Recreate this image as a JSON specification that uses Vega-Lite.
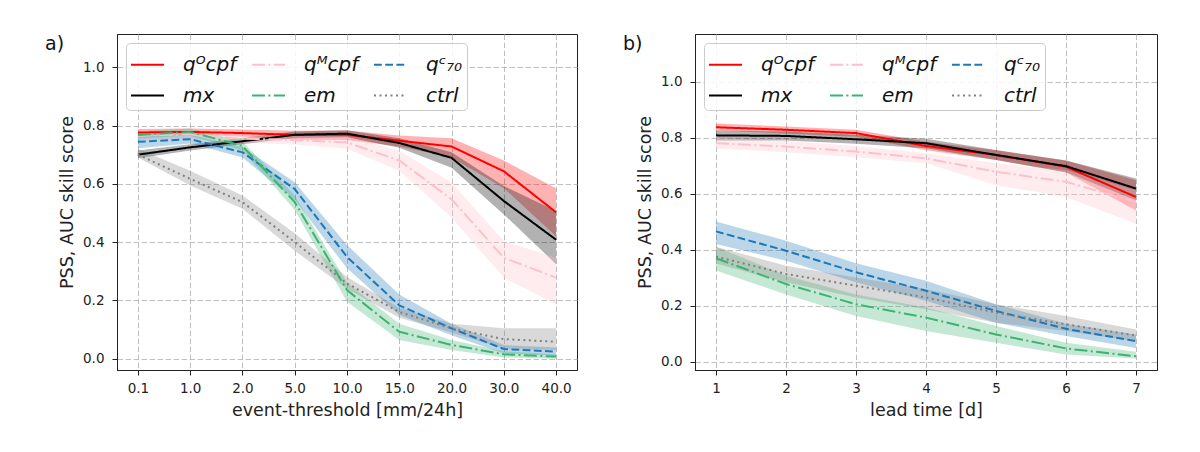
{
  "$schema": "https://vega.github.io/schema/vega-lite/v6.json",
  "background": "white",
  "padding": {"left": 44, "top": 33, "right": 5, "bottom": 5},
  "config": {
    "font": "DejaVu Sans",
    "view": {"stroke": "#222", "strokeWidth": 1},
    "axis": {
      "labelFontSize": 13.5, "labelColor": "#222", "titleFontSize": 17.5, "titleFontWeight": "normal",
      "titleColor": "#222", "tickColor": "#222", "domainColor": "#222", "tickSize": 5,
      "gridColor": "#b0b0b0", "gridDash": [5.5, 2.5], "gridWidth": 0.8
    },
    "axisX": {"labelPadding": 6, "titlePadding": 7, "labelAngle": 0},
    "axisY": {"labelPadding": 8, "titlePadding": 6},
    "legend": {
      "labelFontSize": 20, "labelFontStyle": "italic", "labelColor": "#111",
      "symbolType": "stroke", "symbolSize": 1089, "symbolStrokeWidth": 2,
      "fillColor": "rgba(255,255,255,0.85)", "strokeColor": "#cccccc", "cornerRadius": 4,
      "padding": 4, "rowPadding": 3, "columnPadding": 11, "labelOffset": 18
    },
    "title": {"fontSize": 19, "fontWeight": "normal", "color": "#111", "anchor": "start", "frame": "group", "baseline": "alphabetic", "offset": 0, "dx": -72, "dy": 24}
  },
  "datasets": {
    "a": [
      {"s": "qᴼcpf", "x": "0.1", "m": 0.776, "lo": 0.765, "hi": 0.788},
      {"s": "qᴼcpf", "x": "1.0", "m": 0.778, "lo": 0.768, "hi": 0.790},
      {"s": "qᴼcpf", "x": "2.0", "m": 0.774, "lo": 0.762, "hi": 0.786},
      {"s": "qᴼcpf", "x": "5.0", "m": 0.768, "lo": 0.752, "hi": 0.782},
      {"s": "qᴼcpf", "x": "10.0", "m": 0.768, "lo": 0.750, "hi": 0.783},
      {"s": "qᴼcpf", "x": "15.0", "m": 0.748, "lo": 0.728, "hi": 0.766},
      {"s": "qᴼcpf", "x": "20.0", "m": 0.728, "lo": 0.690, "hi": 0.756},
      {"s": "qᴼcpf", "x": "30.0", "m": 0.643, "lo": 0.585, "hi": 0.680},
      {"s": "qᴼcpf", "x": "40.0", "m": 0.502, "lo": 0.420, "hi": 0.585},
      {"s": "mx", "x": "0.1", "m": 0.700, "lo": 0.688, "hi": 0.714},
      {"s": "mx", "x": "1.0", "m": 0.725, "lo": 0.714, "hi": 0.736},
      {"s": "mx", "x": "2.0", "m": 0.746, "lo": 0.736, "hi": 0.757},
      {"s": "mx", "x": "5.0", "m": 0.768, "lo": 0.757, "hi": 0.779},
      {"s": "mx", "x": "10.0", "m": 0.772, "lo": 0.760, "hi": 0.784},
      {"s": "mx", "x": "15.0", "m": 0.740, "lo": 0.724, "hi": 0.756},
      {"s": "mx", "x": "20.0", "m": 0.689, "lo": 0.655, "hi": 0.708},
      {"s": "mx", "x": "30.0", "m": 0.541, "lo": 0.495, "hi": 0.592},
      {"s": "mx", "x": "40.0", "m": 0.408, "lo": 0.324, "hi": 0.507},
      {"s": "qᴹcpf", "x": "0.1", "m": 0.765, "lo": 0.750, "hi": 0.780},
      {"s": "qᴹcpf", "x": "1.0", "m": 0.770, "lo": 0.755, "hi": 0.785},
      {"s": "qᴹcpf", "x": "2.0", "m": 0.755, "lo": 0.740, "hi": 0.770},
      {"s": "qᴹcpf", "x": "5.0", "m": 0.750, "lo": 0.735, "hi": 0.765},
      {"s": "qᴹcpf", "x": "10.0", "m": 0.742, "lo": 0.720, "hi": 0.762},
      {"s": "qᴹcpf", "x": "15.0", "m": 0.680, "lo": 0.645, "hi": 0.713},
      {"s": "qᴹcpf", "x": "20.0", "m": 0.547, "lo": 0.484, "hi": 0.604},
      {"s": "qᴹcpf", "x": "30.0", "m": 0.346, "lo": 0.278, "hi": 0.404},
      {"s": "qᴹcpf", "x": "40.0", "m": 0.278, "lo": 0.187, "hi": 0.346},
      {"s": "qᶜ₇₀", "x": "0.1", "m": 0.744, "lo": 0.722, "hi": 0.762},
      {"s": "qᶜ₇₀", "x": "1.0", "m": 0.753, "lo": 0.738, "hi": 0.768},
      {"s": "qᶜ₇₀", "x": "2.0", "m": 0.708, "lo": 0.690, "hi": 0.726},
      {"s": "qᶜ₇₀", "x": "5.0", "m": 0.582, "lo": 0.545, "hi": 0.605},
      {"s": "qᶜ₇₀", "x": "10.0", "m": 0.349, "lo": 0.310, "hi": 0.390},
      {"s": "qᶜ₇₀", "x": "15.0", "m": 0.183, "lo": 0.150, "hi": 0.220},
      {"s": "qᶜ₇₀", "x": "20.0", "m": 0.104, "lo": 0.080, "hi": 0.120},
      {"s": "qᶜ₇₀", "x": "30.0", "m": 0.033, "lo": 0.018, "hi": 0.047},
      {"s": "qᶜ₇₀", "x": "40.0", "m": 0.024, "lo": 0.010, "hi": 0.038},
      {"s": "em", "x": "0.1", "m": 0.767, "lo": 0.755, "hi": 0.779},
      {"s": "em", "x": "1.0", "m": 0.778, "lo": 0.765, "hi": 0.790},
      {"s": "em", "x": "2.0", "m": 0.730, "lo": 0.715, "hi": 0.745},
      {"s": "em", "x": "5.0", "m": 0.537, "lo": 0.510, "hi": 0.560},
      {"s": "em", "x": "10.0", "m": 0.235, "lo": 0.195, "hi": 0.260},
      {"s": "em", "x": "15.0", "m": 0.092, "lo": 0.064, "hi": 0.120},
      {"s": "em", "x": "20.0", "m": 0.047, "lo": 0.030, "hi": 0.064},
      {"s": "em", "x": "30.0", "m": 0.015, "lo": 0.004, "hi": 0.025},
      {"s": "em", "x": "40.0", "m": 0.007, "lo": 0.000, "hi": 0.015},
      {"s": "ctrl", "x": "0.1", "m": 0.700, "lo": 0.690, "hi": 0.720},
      {"s": "ctrl", "x": "1.0", "m": 0.617, "lo": 0.594, "hi": 0.645},
      {"s": "ctrl", "x": "2.0", "m": 0.537, "lo": 0.514, "hi": 0.560},
      {"s": "ctrl", "x": "5.0", "m": 0.400, "lo": 0.370, "hi": 0.430},
      {"s": "ctrl", "x": "10.0", "m": 0.258, "lo": 0.240, "hi": 0.280},
      {"s": "ctrl", "x": "15.0", "m": 0.160, "lo": 0.140, "hi": 0.175},
      {"s": "ctrl", "x": "20.0", "m": 0.104, "lo": 0.090, "hi": 0.120},
      {"s": "ctrl", "x": "30.0", "m": 0.067, "lo": 0.035, "hi": 0.104},
      {"s": "ctrl", "x": "40.0", "m": 0.058, "lo": 0.030, "hi": 0.104}
    ],
    "b": [
      {"s": "qᴼcpf", "x": 1, "m": 0.837, "lo": 0.825, "hi": 0.850},
      {"s": "qᴼcpf", "x": 2, "m": 0.828, "lo": 0.815, "hi": 0.840},
      {"s": "qᴼcpf", "x": 3, "m": 0.816, "lo": 0.803, "hi": 0.828},
      {"s": "qᴼcpf", "x": 4, "m": 0.770, "lo": 0.755, "hi": 0.785},
      {"s": "qᴼcpf", "x": 5, "m": 0.738, "lo": 0.720, "hi": 0.755},
      {"s": "qᴼcpf", "x": 6, "m": 0.696, "lo": 0.675, "hi": 0.718},
      {"s": "qᴼcpf", "x": 7, "m": 0.588, "lo": 0.540, "hi": 0.648},
      {"s": "mx", "x": 1, "m": 0.808, "lo": 0.790, "hi": 0.825},
      {"s": "mx", "x": 2, "m": 0.806, "lo": 0.790, "hi": 0.822},
      {"s": "mx", "x": 3, "m": 0.794, "lo": 0.778, "hi": 0.810},
      {"s": "mx", "x": 4, "m": 0.780, "lo": 0.762, "hi": 0.796},
      {"s": "mx", "x": 5, "m": 0.738, "lo": 0.720, "hi": 0.756},
      {"s": "mx", "x": 6, "m": 0.698, "lo": 0.676, "hi": 0.718},
      {"s": "mx", "x": 7, "m": 0.618, "lo": 0.576, "hi": 0.654},
      {"s": "qᴹcpf", "x": 1, "m": 0.780, "lo": 0.760, "hi": 0.800},
      {"s": "qᴹcpf", "x": 2, "m": 0.768, "lo": 0.748, "hi": 0.788},
      {"s": "qᴹcpf", "x": 3, "m": 0.750, "lo": 0.730, "hi": 0.770},
      {"s": "qᴹcpf", "x": 4, "m": 0.726, "lo": 0.708, "hi": 0.744},
      {"s": "qᴹcpf", "x": 5, "m": 0.678, "lo": 0.630, "hi": 0.708},
      {"s": "qᴹcpf", "x": 6, "m": 0.642, "lo": 0.588, "hi": 0.684},
      {"s": "qᴹcpf", "x": 7, "m": 0.570, "lo": 0.492, "hi": 0.612},
      {"s": "qᶜ₇₀", "x": 1, "m": 0.465, "lo": 0.420, "hi": 0.500},
      {"s": "qᶜ₇₀", "x": 2, "m": 0.396, "lo": 0.360, "hi": 0.432},
      {"s": "qᶜ₇₀", "x": 3, "m": 0.319, "lo": 0.283, "hi": 0.351},
      {"s": "qᶜ₇₀", "x": 4, "m": 0.253, "lo": 0.217, "hi": 0.289},
      {"s": "qᶜ₇₀", "x": 5, "m": 0.181, "lo": 0.139, "hi": 0.205},
      {"s": "qᶜ₇₀", "x": 6, "m": 0.117, "lo": 0.091, "hi": 0.135},
      {"s": "qᶜ₇₀", "x": 7, "m": 0.073, "lo": 0.049, "hi": 0.097},
      {"s": "em", "x": 1, "m": 0.369, "lo": 0.325, "hi": 0.410},
      {"s": "em", "x": 2, "m": 0.277, "lo": 0.240, "hi": 0.307},
      {"s": "em", "x": 3, "m": 0.205, "lo": 0.163, "hi": 0.240},
      {"s": "em", "x": 4, "m": 0.157, "lo": 0.109, "hi": 0.193},
      {"s": "em", "x": 5, "m": 0.097, "lo": 0.067, "hi": 0.127},
      {"s": "em", "x": 6, "m": 0.047, "lo": 0.025, "hi": 0.067},
      {"s": "em", "x": 7, "m": 0.019, "lo": 0.011, "hi": 0.035},
      {"s": "ctrl", "x": 1, "m": 0.375, "lo": 0.350, "hi": 0.410},
      {"s": "ctrl", "x": 2, "m": 0.313, "lo": 0.283, "hi": 0.342},
      {"s": "ctrl", "x": 3, "m": 0.271, "lo": 0.229, "hi": 0.300},
      {"s": "ctrl", "x": 4, "m": 0.229, "lo": 0.187, "hi": 0.259},
      {"s": "ctrl", "x": 5, "m": 0.175, "lo": 0.139, "hi": 0.205},
      {"s": "ctrl", "x": 6, "m": 0.133, "lo": 0.109, "hi": 0.163},
      {"s": "ctrl", "x": 7, "m": 0.093, "lo": 0.073, "hi": 0.115}
    ]
  },
  "spacing": 44,
  "resolve": {
    "scale": {"color": "independent", "strokeDash": "independent", "fill": "independent"},
    "legend": {"color": "independent", "strokeDash": "independent", "fill": "independent"}
  },
  "hconcat": [
    {
      "width": 460,
      "height": 336,
      "title": {"text": "a)"},
      "data": {"name": "a"},
      "encoding": {
        "x": {
          "field": "x", "type": "ordinal",
          "sort": ["0.1", "1.0", "2.0", "5.0", "10.0", "15.0", "20.0", "30.0", "40.0"],
          "scale": {"type": "point", "padding": 0.4},
          "axis": {"title": "event-threshold [mm/24h]", "grid": true}
        }
      },
      "layer": [
        {
          "mark": {"type": "area", "opacity": 0.3},
          "encoding": {
            "y": {"field": "lo", "type": "quantitative", "scale": {"domain": [-0.039, 1.114], "nice": false, "zero": false},
                  "axis": {"title": "PSS, AUC skill score", "values": [0, 0.2, 0.4, 0.6, 0.8, 1.0], "format": ".1f", "grid": true}},
            "y2": {"field": "hi"},
            "fill": {"field": "s", "type": "nominal",
                     "scale": {"domain": ["ctrl", "em", "mx", "qᶜ₇₀", "qᴹcpf", "qᴼcpf"], "range": ["#808080", "#3cb371", "#000000", "#1f77b4", "#ffc0cb", "#ff0000"]},
                     "legend": null}
          }
        },
        {
          "mark": {"type": "line", "strokeWidth": 2},
          "encoding": {
            "y": {"field": "m", "type": "quantitative", "axis": {"title": "PSS, AUC skill score", "values": [0, 0.2, 0.4, 0.6, 0.8, 1.0], "format": ".1f", "grid": true}},
            "color": {"field": "s", "type": "nominal",
                      "scale": {"domain": ["qᴼcpf", "mx", "qᴹcpf", "em", "qᶜ₇₀", "ctrl"], "range": ["#ff0000", "#000000", "#ffc0cb", "#3cb371", "#1f77b4", "#808080"]},
                      "legend": {"orient": "top-left", "offset": 9, "columns": 3, "title": null}},
            "strokeDash": {"field": "s", "type": "nominal",
                           "scale": {"domain": ["qᴼcpf", "mx", "qᴹcpf", "em", "qᶜ₇₀", "ctrl"], "range": [[1, 0], [1, 0], [13, 3.4, 2, 3.4], [13, 3.4, 2, 3.4], [7.8, 3.4], [2, 3.5]]},
                           "legend": {"orient": "top-left", "offset": 9, "columns": 3, "title": null}}
          }
        }
      ]
    },
    {
      "width": 462,
      "height": 336,
      "title": {"text": "b)"},
      "data": {"name": "b"},
      "encoding": {
        "x": {
          "field": "x", "type": "quantitative",
          "scale": {"domain": [0.7, 7.3], "nice": false, "zero": false},
          "axis": {"title": "lead time [d]", "values": [1, 2, 3, 4, 5, 6, 7], "format": "d", "grid": true}
        }
      },
      "layer": [
        {
          "mark": {"type": "area", "opacity": 0.3},
          "encoding": {
            "y": {"field": "lo", "type": "quantitative", "scale": {"domain": [-0.03, 1.17], "nice": false, "zero": false},
                  "axis": {"title": "PSS, AUC skill score", "values": [0, 0.2, 0.4, 0.6, 0.8, 1.0], "format": ".1f", "grid": true}},
            "y2": {"field": "hi"},
            "fill": {"field": "s", "type": "nominal",
                     "scale": {"domain": ["ctrl", "em", "mx", "qᶜ₇₀", "qᴹcpf", "qᴼcpf"], "range": ["#808080", "#3cb371", "#000000", "#1f77b4", "#ffc0cb", "#ff0000"]},
                     "legend": null}
          }
        },
        {
          "mark": {"type": "line", "strokeWidth": 2},
          "encoding": {
            "y": {"field": "m", "type": "quantitative", "axis": {"title": "PSS, AUC skill score", "values": [0, 0.2, 0.4, 0.6, 0.8, 1.0], "format": ".1f", "grid": true}},
            "color": {"field": "s", "type": "nominal",
                      "scale": {"domain": ["qᴼcpf", "mx", "qᴹcpf", "em", "qᶜ₇₀", "ctrl"], "range": ["#ff0000", "#000000", "#ffc0cb", "#3cb371", "#1f77b4", "#808080"]},
                      "legend": {"orient": "top-left", "offset": 9, "columns": 3, "title": null}},
            "strokeDash": {"field": "s", "type": "nominal",
                           "scale": {"domain": ["qᴼcpf", "mx", "qᴹcpf", "em", "qᶜ₇₀", "ctrl"], "range": [[1, 0], [1, 0], [13, 3.4, 2, 3.4], [13, 3.4, 2, 3.4], [7.8, 3.4], [2, 3.5]]},
                           "legend": {"orient": "top-left", "offset": 9, "columns": 3, "title": null}}
          }
        }
      ]
    }
  ]
}
